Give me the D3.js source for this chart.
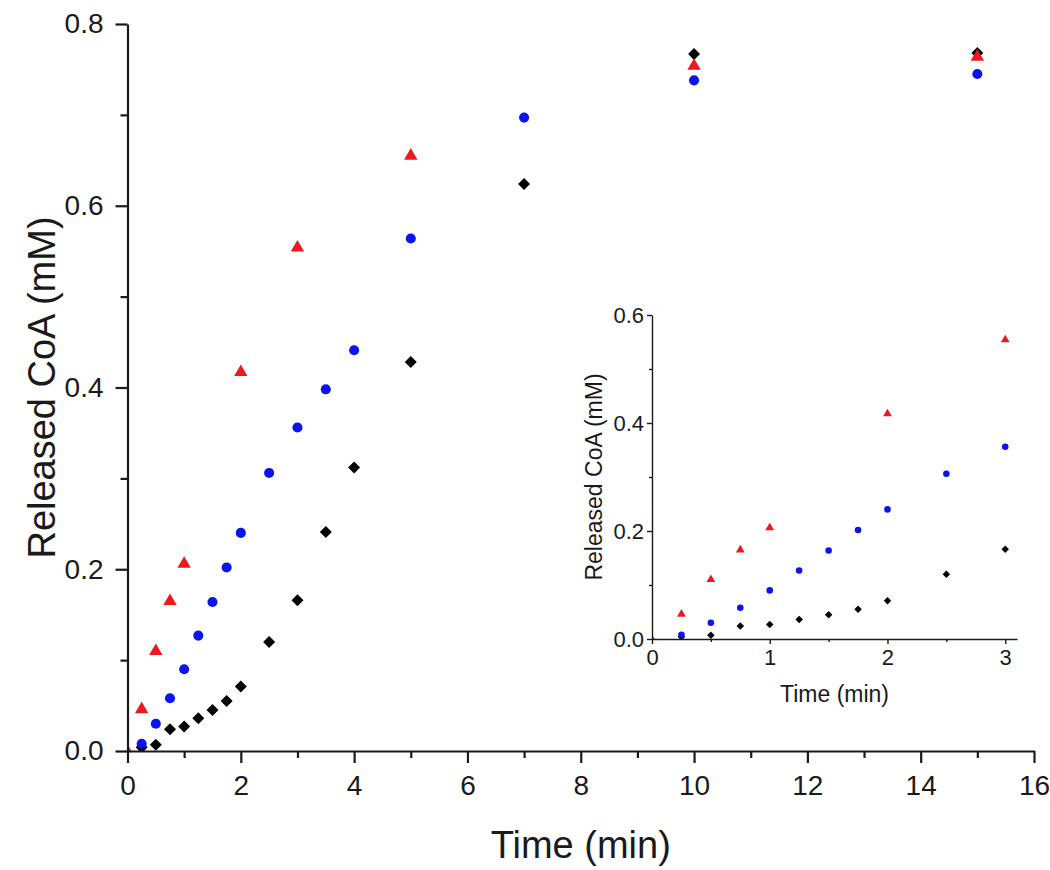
<!DOCTYPE html>
<html>
<head>
<meta charset="utf-8">
<script src="https://cdn.jsdelivr.net/npm/d3@7"></script>
<style>
  body { margin: 0; background: #fff; }
  text { font-family: "Liberation Sans", Arial, sans-serif; fill: #1a1a1a; }
</style>
</head>
<body>
<script>
var width = 1050,
    height = 870;

// data (time in min, released CoA in mM)
var timeRed = [0, 0.25, 0.5, 0.75, 1, 2, 3, 5, 10, 15];
var coaRed = [0, 0.047, 0.111, 0.166, 0.207, 0.418, 0.555, 0.656, 0.755, 0.765];

var timeBlue = [0.25, 0.5, 0.75, 1, 1.25, 1.5, 1.75, 2, 2.5, 3, 3.5, 4, 5, 7, 10, 15];
var coaBlue = [0.008, 0.030, 0.058, 0.090, 0.127, 0.164, 0.202, 0.240, 0.306, 0.356, 0.398, 0.441, 0.564, 0.697, 0.738, 0.745];

var timeBlack = [0.25, 0.5, 0.75, 1, 1.25, 1.5, 1.75, 2, 2.5, 3, 3.5, 4, 5, 7, 10, 15];
var coaBlack = [0.004, 0.007, 0.024, 0.027, 0.036, 0.045, 0.055, 0.071, 0.120, 0.166, 0.241, 0.312, 0.428, 0.624, 0.767, 0.768];

var mainXTicks = [0, 2, 4, 6, 8, 10, 12, 14, 16],
    mainXMinor = [1, 3, 5, 7, 9, 11, 13, 15],
    mainYTicks = [0, 0.2, 0.4, 0.6, 0.8],
    mainYMinor = [0.1, 0.3, 0.5, 0.7];

var insetXTicks = [0, 1, 2, 3],
    insetXMinor = [0.5, 1.5, 2.5],
    insetYTicks = [0, 0.2, 0.4, 0.6],
    insetYMinor = [0.1, 0.3, 0.5];

function zip(ts, vs) {
    return ts.map(function(t, i) { return {t: t, v: vs[i]}; });
}

var series = [
    {name: "black", data: zip(timeBlack, coaBlack), color: "#000000", shape: "diamond"},
    {name: "red", data: zip(timeRed, coaRed), color: "#ea1a20", shape: "triangle"},
    {name: "blue", data: zip(timeBlue, coaBlue), color: "#0a14ec", shape: "circle"}
];

var svg = d3.select("body").append("svg")
    .attr("width", width)
    .attr("height", height);

var defs = svg.append("defs");

function symbolPath(shape, size) {
    if (shape == "triangle") return d3.symbol(d3.symbolTriangle, size)();
    if (shape == "diamond") return d3.symbol(d3.symbolSquare, size)();
    return d3.symbol(d3.symbolCircle, size)();
}

// draws one panel: markers, axes, titles
function panel(opt) {
    var x = d3.scaleLinear().domain(opt.xDomain).range(opt.xRange),
        y = d3.scaleLinear().domain(opt.yDomain).range(opt.yRange);

    var g = svg.append("g");

    defs.append("clipPath").attr("id", opt.id + "-clip")
        .append("rect")
        .attr("x", opt.xRange[0])
        .attr("y", opt.yRange[1] - 10)
        .attr("width", opt.xRange[1] - opt.xRange[0] + 10)
        .attr("height", opt.yRange[0] - opt.yRange[1] + 10);

    var marks = g.append("g").attr("clip-path", "url(#" + opt.id + "-clip)");

    series.forEach(function(s) {
        marks.selectAll(".pt-" + s.name)
            .data(s.data.filter(function(d) { return d.t <= opt.xDomain[1]; }))
            .enter().append("path")
            .attr("class", "pt-" + s.name)
            .attr("d", symbolPath(s.shape, opt.sizes[s.shape]))
            .attr("transform", function(d) {
                var tr = "translate(" + x(d.t) + "," + y(d.v) + ")";
                if (s.shape == "diamond") tr += " rotate(45)";
                if (s.shape == "triangle") tr += " translate(0," + opt.triShift + ")";
                return tr;
            })
            .style("fill", s.color);
    });

    // minor ticks
    g.append("g")
        .attr("transform", "translate(0," + opt.yRange[0] + ")")
        .call(d3.axisBottom(x).tickValues(opt.xMinor).tickSize(opt.minorLen).tickFormat(""))
        .call(function(a) { a.select(".domain").remove(); });
    g.append("g")
        .attr("transform", "translate(" + opt.xRange[0] + ",0)")
        .call(d3.axisLeft(y).tickValues(opt.yMinor).tickSize(opt.minorLen).tickFormat(""))
        .call(function(a) { a.select(".domain").remove(); });

    g.append("g")
        .attr("transform", "translate(0," + opt.yRange[0] + ")")
        .call(d3.axisBottom(x).tickValues(opt.xTicks).tickSize(opt.majorLen).tickSizeOuter(0)
            .tickPadding(opt.xPad).tickFormat(d3.format("d")));

    g.append("g")
        .attr("transform", "translate(" + opt.xRange[0] + ",0)")
        .call(d3.axisLeft(y).tickValues(opt.yTicks).tickSize(opt.majorLen).tickSizeOuter(0)
            .tickPadding(opt.yPad).tickFormat(d3.format(".1f")));

    g.selectAll(".tick line").attr("stroke", "#1a1a1a").attr("stroke-width", opt.lineW);
    g.selectAll(".domain").attr("stroke", "#1a1a1a").attr("stroke-width", opt.lineW);
    g.selectAll(".tick text")
        .attr("font-family", null)
        .style("font-size", opt.tickFont + "px")
        .attr("fill", "#1a1a1a");

    g.append("text")
        .attr("x", (opt.xRange[0] + opt.xRange[1]) / 2)
        .attr("y", opt.xTitleY)
        .attr("text-anchor", "middle")
        .style("font-size", opt.titleFont + "px")
        .text("Time (min)");

    g.append("text")
        .attr("transform", "translate(" + opt.yTitleX + "," + (opt.yRange[0] + opt.yRange[1]) / 2 + ") rotate(-90)")
        .attr("text-anchor", "middle")
        .style("font-size", opt.titleFont + "px")
        .text("Released CoA (mM)");
}

panel({
    id: "main",
    xDomain: [0, 16], xRange: [127.5, 1034],
    yDomain: [0, 0.8], yRange: [751, 24],
    xTicks: mainXTicks, xMinor: mainXMinor,
    yTicks: mainYTicks, yMinor: mainYMinor,
    majorLen: 12, minorLen: 7, lineW: 2.2,
    xPad: 12, yPad: 12,
    tickFont: 28, titleFont: 38,
    xTitleY: 858, yTitleX: 55,
    sizes: {circle: 80, triangle: 78, diamond: 72},
    triShift: 1
});

panel({
    id: "inset",
    xDomain: [0, 3.1], xRange: [652, 1017],
    yDomain: [0, 0.6], yRange: [639, 315],
    xTicks: insetXTicks, xMinor: insetXMinor,
    yTicks: insetYTicks, yMinor: insetYMinor,
    majorLen: 5, minorLen: 3, lineW: 1.4,
    xPad: 5, yPad: 3,
    tickFont: 22, titleFont: 23,
    xTitleY: 702, yTitleX: 602,
    sizes: {circle: 34, triangle: 34, diamond: 28},
    triShift: 0.5
});
</script>
</body>
</html>
